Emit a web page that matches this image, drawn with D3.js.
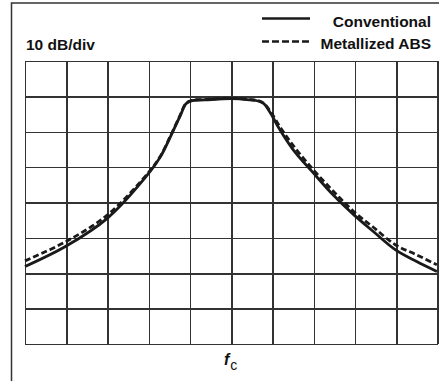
<!DOCTYPE html>
<html>
<head>
<meta charset="utf-8">
<script src="https://cdn.jsdelivr.net/npm/d3@7"></script>
<style>
  body { margin: 0; background: #fff; }
  svg { display: block; }
  text { font-family: "Liberation Sans", Arial, sans-serif; fill: #111; }
  .grid line { stroke: #333; stroke-width: 1.5; shape-rendering: crispEdges; }
  .grid path { display: none; }
</style>
</head>
<body>
<div id="wrapper"></div>
<script>
// Data (x in divisions from fc, y in dB below top of screen)
const xTicks = d3.range(-5, 6)
const yTicks = d3.range(0, -90, -10)

const solidX  = [-5.0, -4.0, -3.0, -2.0, -1.72, -1.48, -1.24, -1.10, -0.95, -0.64, 0, 0.45, 0.65, 0.79, 0.95, 1.18, 1.50, 1.99, 2.47, 2.97, 3.44, 3.98, 4.49, 4.98]
const solidDb = [-58.1, -52.3, -44.4, -31.7, -27.1, -21.5, -15.5, -12.1, -11.2, -11.0, -10.65, -11.0, -11.3, -12.1, -14.8, -19.5, -25.1, -31.7, -37.9, -43.5, -48.2, -53.4, -56.7, -59.5]

const dashedX  = [-5.0, -4.0, -3.0, -2.0, -1.72, -1.48, -1.24, -1.10, -0.95, -0.64, 0, 0.45, 0.65, 0.79, 0.96, 1.20, 1.50, 1.99, 2.47, 2.97, 3.44, 3.98, 4.49, 4.98]
const dashedDb = [-56.5, -51.0, -43.5, -31.4, -26.9, -21.3, -15.3, -12.0, -11.1, -10.9, -10.55, -10.9, -11.2, -12.0, -14.5, -19.0, -23.9, -30.8, -36.8, -42.6, -47.0, -52.0, -54.8, -57.6]

const seriesNames = ["Conventional", "Metallized ABS"]

// dimensions
const dimensions = {
  width: 439,
  height: 381,
  gridLeft: 25,
  gridRight: 437.7,
  gridTop: 61,
  gridBottom: 344,
}

const svg = d3.select("#wrapper")
  .append("svg")
    .attr("width", dimensions.width)
    .attr("height", dimensions.height)

// scales
const xScale = d3.scaleLinear()
  .domain([-5, 5])
  .range([dimensions.gridLeft, dimensions.gridRight])
const yScale = d3.scaleLinear()
  .domain([0, -80])
  .range([dimensions.gridTop, dimensions.gridBottom])

// outer frame (open on right and bottom)
svg.append("path")
  .attr("d", `M11.5,381 V3 H439`)
  .attr("fill", "none")
  .attr("stroke", "#333")
  .attr("stroke-width", 1.5)

// grid
const gridH = dimensions.gridBottom - dimensions.gridTop
const gridW = dimensions.gridRight - dimensions.gridLeft
svg.append("g")
  .attr("class", "grid")
  .attr("transform", `translate(0, ${dimensions.gridBottom})`)
  .call(d3.axisBottom(xScale).tickValues(xTicks).tickSize(-gridH).tickFormat(""))
svg.append("g")
  .attr("class", "grid")
  .attr("transform", `translate(${dimensions.gridLeft}, 0)`)
  .call(d3.axisLeft(yScale).tickValues(yTicks).tickSize(-gridW).tickFormat(""))

// curves
const line = d3.line()
  .x(d => xScale(d[0]))
  .y(d => yScale(d[1]))
  .curve(d3.curveCatmullRom.alpha(0.5))

const solidData = solidX.map((x, i) => [x, solidDb[i]])
const dashedData = dashedX.map((x, i) => [x, dashedDb[i]])

svg.append("path")
  .attr("d", line(dashedData))
  .attr("fill", "none")
  .attr("stroke", "#1a1a1a")
  .attr("stroke-width", 2.8)
  .attr("stroke-dasharray", "6 3")
svg.append("path")
  .attr("d", line(solidData))
  .attr("fill", "none")
  .attr("stroke", "#1a1a1a")
  .attr("stroke-width", 2.8)

// labels
svg.append("text")
  .attr("x", 26)
  .attr("y", 50)
  .attr("font-size", 15.5)
  .attr("font-weight", "bold")
  .text("10 dB/div")

const legend = svg.append("g")
const legendRows = [
  { name: seriesNames[0], y: 18.5, textY: 26.5, dash: null },
  { name: seriesNames[1], y: 41.5, textY: 48.5, dash: "7 3" },
]
legendRows.forEach(r => {
  legend.append("line")
    .attr("x1", 262).attr("x2", 310)
    .attr("y1", r.y).attr("y2", r.y)
    .attr("stroke", "#1a1a1a")
    .attr("stroke-width", 2.5)
    .attr("stroke-dasharray", r.dash)
  legend.append("text")
    .attr("x", 431)
    .attr("y", r.textY)
    .attr("text-anchor", "end")
    .attr("font-size", 15.5)
    .attr("font-weight", "bold")
    .text(r.name)
})

// fc label
const fc = svg.append("text")
  .attr("x", 224)
  .attr("y", 365)
  .attr("font-size", 16)
fc.append("tspan")
  .attr("font-style", "italic")
  .attr("font-weight", "bold")
  .text("f")
fc.append("tspan")
  .attr("dy", 5)
  .attr("dx", 1)
  .attr("font-size", 14)
  .text("c")
</script>
</body>
</html>
